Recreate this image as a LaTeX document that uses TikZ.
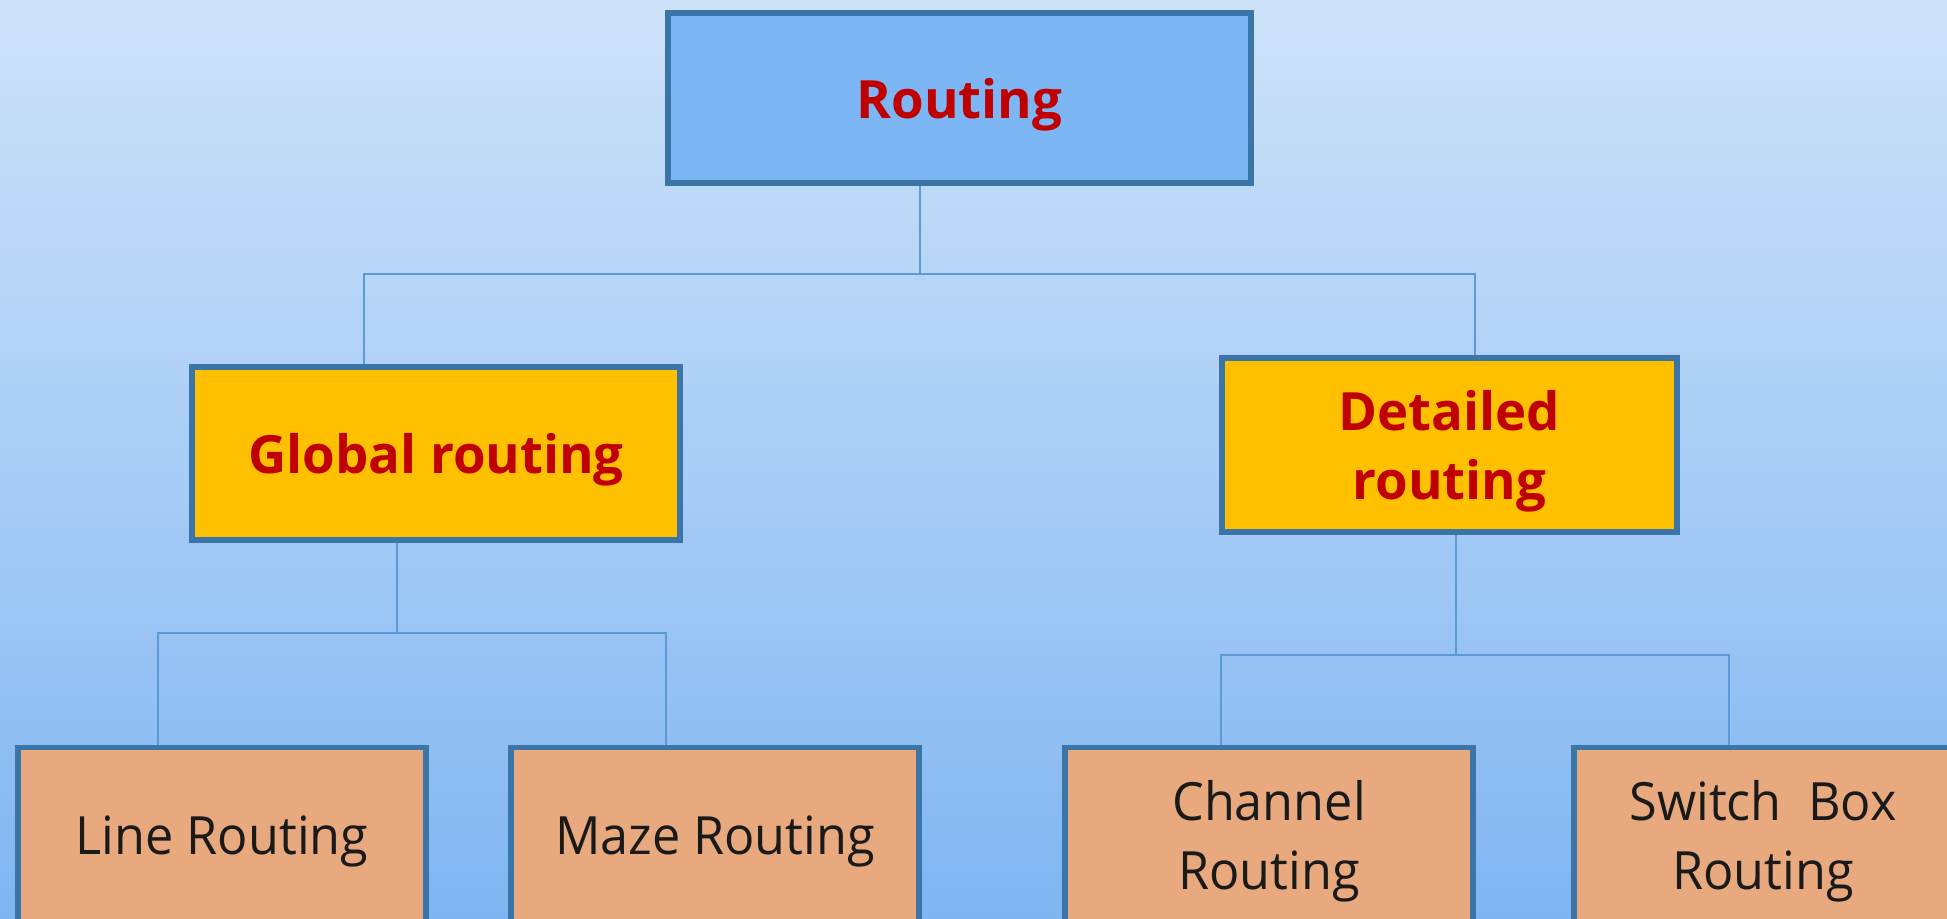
\documentclass[tikz,border=0pt]{standalone}
\usepackage{fontspec}
\setmainfont{Open Sans}
\newfontfamily\leaffont[FakeStretch=0.955]{Open Sans}
\definecolor{bgtop}{HTML}{CDE2F8}
\definecolor{bgmid}{HTML}{A9CDF6}
\definecolor{bgbot}{HTML}{7FB5F1}
\definecolor{edge}{HTML}{3B74A6}
\definecolor{rootfill}{HTML}{7DB6F4}
\definecolor{midfill}{HTML}{FFC000}
\definecolor{leaffill}{HTML}{E8A97E}
\definecolor{linkcol}{HTML}{5B9BD5}
\definecolor{headred}{HTML}{C00000}
\definecolor{leaftext}{HTML}{1A1A1A}
\tikzset{
  box/.style={draw=edge, line width=1.6pt, rectangle, inner sep=0pt,
    align=center, text depth=0pt, font=\fontsize{15}{19.4}\selectfont},
  rootbox/.style={box, fill=rootfill, text=headred, font=\fontsize{15}{19.4}\selectfont\bfseries},
  midbox/.style={box, fill=midfill, text=headred, font=\fontsize{15}{19.4}\selectfont\bfseries},
  leafbox/.style={box, fill=leaffill, text=leaftext, minimum height=1.75cm,
    font=\leaffont\fontsize{15}{19.4}\selectfont},
  link/.style={draw=linkcol, line width=0.7pt}
}
\begin{document}
\begin{tikzpicture}[x=0.01cm, y=-0.01cm]
\useasboundingbox (0,0) rectangle (1947,919);
\clip (0,0) rectangle (1947,919);
% background
\shade[top color=bgtop, bottom color=bgbot, middle color=bgmid] (0,0) rectangle (1947,919);

% boxes
\node[rootbox, minimum width=5.83cm, minimum height=1.70cm] (root) at (959.5,98) {Routing};
\node[midbox, minimum width=4.88cm, minimum height=1.73cm] (global) at (436,453.5) {Global routing};
\node[midbox, minimum width=4.55cm, minimum height=1.74cm] (detailed) at (1449.5,445) {Detailed\\routing};
\node[leafbox, minimum width=4.08cm] (line) at (222,835) {Line Routing};
\node[leafbox, minimum width=4.08cm] (maze) at (715,835) {Maze Routing};
\node[leafbox, minimum width=4.08cm] (channel) at (1269,835) {Channel\\Routing};
\node[leafbox, minimum width=3.78cm] (switch) at (1763,835) {Switch\hspace{0.5em}Box\\Routing};

% first level connectors
\coordinate (hub) at (920,274);
\coordinate (hubL) at (364,274);
\coordinate (hubR) at (1475,274);
\draw[link] (root.south -| hub) -- (hub);
\draw[link] (global.north -| hubL) -- (hubL) -- (hubR) -- (detailed.north -| hubR);

% global routing connectors
\coordinate (gh) at (397,633);
\coordinate (ghL) at (158,633);
\coordinate (ghR) at (666,633);
\draw[link] (global.south -| gh) -- (gh);
\draw[link] (line.north -| ghL) -- (ghL) -- (ghR) -- (maze.north -| ghR);

% detailed routing connectors
\coordinate (dh) at (1456,655);
\coordinate (dhL) at (1221,655);
\coordinate (dhR) at (1729,655);
\draw[link] (detailed.south -| dh) -- (dh);
\draw[link] (channel.north -| dhL) -- (dhL) -- (dhR) -- (switch.north -| dhR);
\end{tikzpicture}
\end{document}
